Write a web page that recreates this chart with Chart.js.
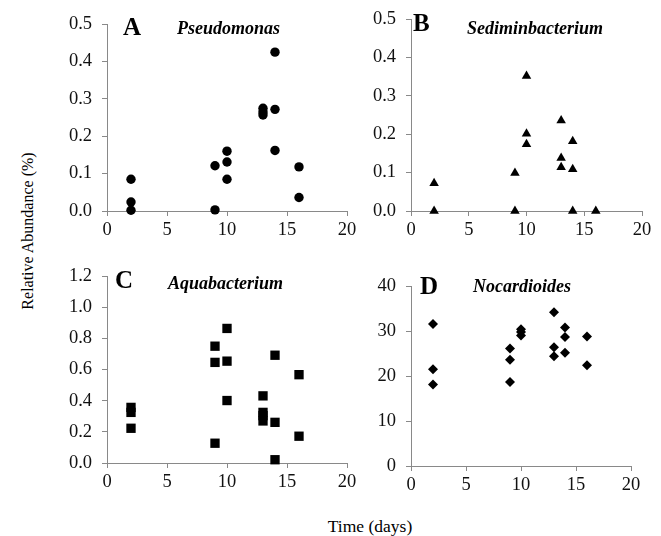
<!DOCTYPE html>
<html>
<head>
<meta charset="utf-8">
<script src="https://cdn.jsdelivr.net/npm/chart.js@4/dist/chart.umd.min.js"></script>
<style>
  body { margin:0; background:#fff; width:661px; height:536px; position:relative; overflow:hidden; font-family:"Liberation Serif","Times New Roman",serif; }
  canvas { position:absolute; }
  .lbl { position:absolute; color:#000; white-space:nowrap; line-height:1; }
  .letter { font-weight:bold; font-size:25px; }
  .genus { font-weight:bold; font-style:italic; font-size:18px; }
</style>
</head>
<body>
<canvas id="cA"></canvas>
<canvas id="cB"></canvas>
<canvas id="cC"></canvas>
<canvas id="cD"></canvas>

<div class="lbl letter" style="left:123px;top:14px">A</div>
<div class="lbl genus" style="left:177px;top:19px">Pseudomonas</div>
<div class="lbl letter" style="left:413px;top:10px">B</div>
<div class="lbl genus" style="left:467px;top:19px">Sediminbacterium</div>
<div class="lbl letter" style="left:115px;top:267px">C</div>
<div class="lbl genus" style="left:168px;top:274px">Aquabacterium</div>
<div class="lbl letter" style="left:420px;top:273px">D</div>
<div class="lbl genus" style="left:473px;top:277px">Nocardioides</div>

<div class="lbl" style="left:28px;top:231px;font-size:16px;transform:translate(-50%,-50%) rotate(-90deg)">Relative Abundance (%)</div>
<div class="lbl" style="left:370px;top:527px;font-size:17.5px;transform:translate(-50%,-50%)">Time (days)</div>

<script>
// days sampled
const daysA = [2,2,2,9,9,10,10,10,13,13,13,14,14,14,16,16];
const pseudomonas = [0.085,0.024,0.002,0.121,0.003,0.160,0.131,0.085,0.275,0.265,0.257,0.425,0.272,0.162,0.118,0.036];

const daysB = [2,2,9,9,10,10,10,13,13,13,14,14,14,16];
const sediminbacterium = [0.072,0.0,0.099,0.0,0.352,0.201,0.174,0.236,0.138,0.114,0.182,0.109,0.0,0.0];

const daysC = [2,2,2,9,9,9,10,10,10,13,13,13,13,14,14,14,16,16];
const aquabacterium = [0.357,0.325,0.223,0.750,0.646,0.127,0.864,0.654,0.401,0.431,0.325,0.304,0.270,0.692,0.261,0.021,0.567,0.172];

const daysD = [2,2,2,9,9,9,10,10,10,13,13,13,14,14,14,16,16];
const nocardioides = [31.6,21.5,18.1,26.1,23.6,18.7,30.4,29.8,29.0,34.2,26.4,24.4,30.8,28.7,25.2,28.8,22.4];

const AXIS = "#898989";
const FONT = "'Liberation Serif','Times New Roman',serif";
const YW = 60, XH = 35, PT = 15, PR = 15;

function config(xs, ys, yMax, yStep, yDec, style, radius){
  const pts = xs.map((x,i)=>({x, y: ys[i]}));
  return {
    type: "scatter",
    data: { datasets: [{ data: pts, pointStyle: style, pointRadius: radius, pointHoverRadius: radius,
      backgroundColor: "#000", borderColor: "#000", borderWidth: 0, clip: false }] },
    options: {
      responsive: false, animation: false, events: [],
      layout: { padding: { top: PT, right: PR, left: 0, bottom: 0 } },
      plugins: { legend: { display: false }, tooltip: { enabled: false } },
      scales: {
        x: { type: "linear", min: 0, max: 20,
          ticks: { stepSize: 5, color: "#111", font: { family: FONT, size: 18.5 }, padding: 3, maxRotation: 0 },
          grid: { drawOnChartArea: false, drawTicks: true, tickLength: 5, color: AXIS },
          border: { color: AXIS, width: 1 },
          afterFit: s => { s.height = XH; } },
        y: { type: "linear", min: 0, max: yMax,
          ticks: { stepSize: yStep, color: "#111", font: { family: FONT, size: 18.5 }, padding: 10,
            callback: v => v.toFixed(yDec) },
          grid: { drawOnChartArea: false, drawTicks: true, tickLength: 5, color: AXIS },
          border: { color: AXIS, width: 1 },
          afterFit: s => { s.width = YW; } }
      }
    }
  };
}

function setSize(cv, w, h){
  cv.width = w; cv.height = h;
  cv.style.width = w + "px"; cv.style.height = h + "px";
}

function makePanel(id, xs, ys, area, yMax, yStep, yDec, style, radius){
  const cv = document.getElementById(id);
  const cfg = () => config(xs, ys, yMax, yStep, yDec, style, radius);
  let w = Math.round(area.R - area.L) + YW + PR;
  let h = Math.round(area.B - area.T) + PT + XH;
  setSize(cv, w, h);
  // first pass only measures how much room the axes take
  let chart = new Chart(cv, cfg());
  let ca = chart.chartArea;
  w += Math.round((area.R - area.L) - (ca.right - ca.left));
  h += Math.round((area.B - area.T) - (ca.bottom - ca.top));
  chart.destroy();
  setSize(cv, w, h);
  chart = new Chart(cv, cfg());
  ca = chart.chartArea;
  cv.style.left = Math.round(area.L - ca.left) + "px";
  cv.style.top = Math.round(area.T - ca.top) + "px";
  return chart;
}

makePanel("cA", daysA, pseudomonas, { L:107, R:347, T:24, B:210.5 }, 0.5, 0.1, 1, "circle", 4.7);
makePanel("cB", daysB, sediminbacterium, { L:410.5, R:641, T:19, B:210.5 }, 0.5, 0.1, 1, "triangle", 5.5);
makePanel("cC", daysC, aquabacterium, { L:106.5, R:346.5, T:276, B:463 }, 1.2, 0.2, 1, "rect", 6.6);
makePanel("cD", daysD, nocardioides, { L:410.5, R:630, T:286, B:466 }, 40, 10, 0, "rectRot", 5);
</script>
</body>
</html>
